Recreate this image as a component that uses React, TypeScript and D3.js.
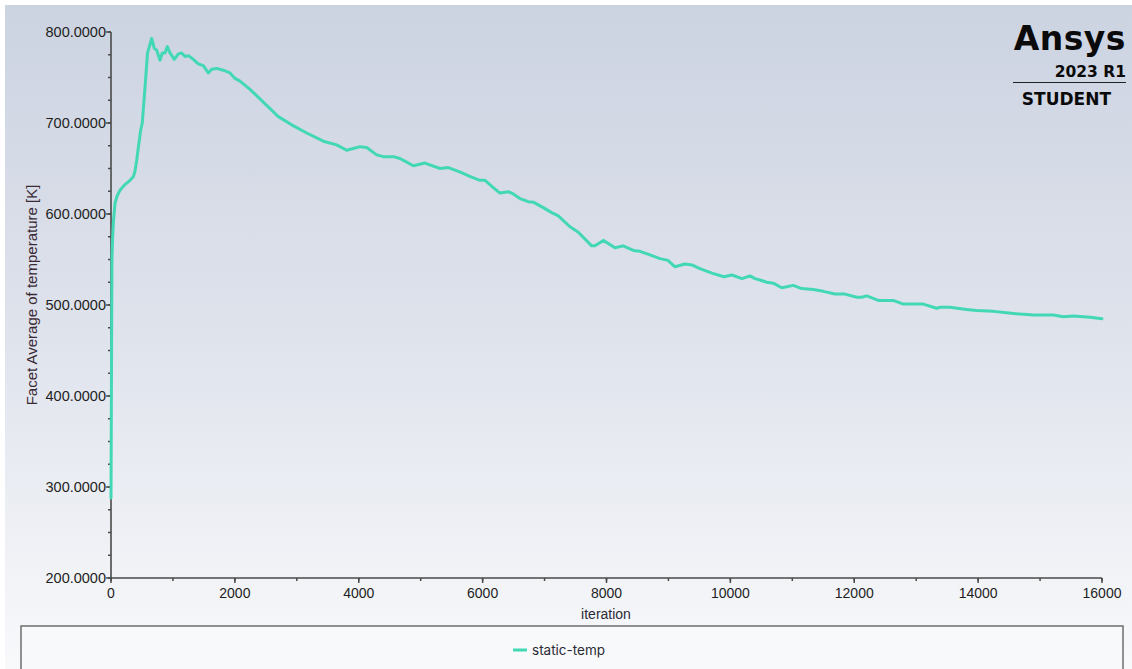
import React from "react";
import * as d3 from "d3";

const iterations = [0, 8, 15, 25, 40, 65, 100, 145, 220, 307, 360, 387, 415, 445, 479, 505, 550, 590, 657, 699, 738, 791, 828, 872, 909, 953, 1022, 1087, 1141, 1195, 1248, 1329, 1409, 1490, 1571, 1625, 1707, 1813, 1921, 2002, 2083, 2244, 2459, 2701, 2917, 3160, 3428, 3644, 3805, 3912, 4020, 4128, 4290, 4396, 4558, 4666, 4774, 4881, 5070, 5312, 5446, 5640, 5802, 5958, 6039, 6172, 6280, 6414, 6495, 6603, 6737, 6818, 6980, 7115, 7222, 7411, 7545, 7761, 7814, 7948, 8137, 8271, 8433, 8541, 8702, 8863, 8992, 9105, 9266, 9379, 9508, 9702, 9896, 10025, 10187, 10316, 10397, 10478, 10587, 10693, 10829, 10909, 11016, 11151, 11339, 11500, 11689, 11851, 12040, 12120, 12201, 12388, 12630, 12792, 13115, 13331, 13384, 13546, 13815, 13976, 14245, 14461, 14676, 14892, 15214, 15376, 15538, 15807, 16000];
const temperatures = [288, 430, 549, 572, 592, 612, 620, 626, 632, 637, 641, 647, 659, 675, 692, 700, 740, 777, 793, 782, 780, 769, 777, 777, 784, 777, 770, 776, 777, 773, 774, 770, 765, 763, 755, 759, 760, 758, 755, 749, 746, 737, 723, 707, 698, 689, 680, 676, 670, 672, 674, 673, 665, 663, 663, 661, 657, 653, 656, 650, 651, 646, 641, 637, 637, 629, 623, 624.5, 622, 617, 613.5, 613, 607, 601.5, 598, 586, 580, 565, 565, 571, 563, 565, 560, 559, 555, 551, 549, 542, 545, 544, 540, 535, 531, 533, 529, 532, 529, 527.5, 525, 524, 519, 520, 521.6, 518, 517, 515, 512, 512, 508.5, 508.5, 510, 505, 505, 501, 501, 496.4, 497.5, 497.5, 495, 494, 493, 491.5, 490, 489, 489, 487, 488, 486.5, 485];

const yTicks = [200, 300, 400, 500, 600, 700, 800];
const xTicks = [0, 2000, 4000, 6000, 8000, 10000, 12000, 14000, 16000];
const seriesName = "static-temp";
const xLabel = "iteration";
const yLabel = "Facet Average of temperature [K]";

export default function App() {
  const W = 1132, H = 669;
  const x = d3.scaleLinear().domain([0, 16000]).range([111, 1102]);
  const y = d3.scaleLinear().domain([200, 800]).range([578, 32]);
  const data = iterations.map((it, i) => [it, temperatures[i]] as [number, number]);
  const line = d3.line<[number, number]>().x(d => x(d[0])).y(d => y(d[1]));
  const yMinor = d3.range(200, 800.1, 25);
  const xMinor = d3.range(0, 16000.1, 1000);
  const lineColor = "#42d8b6";
  const axisColor = "#4a4a4a";
  const font = "'Liberation Sans', Arial, sans-serif";

  return (
    <svg width={W} height={H} style={{ position: "absolute", left: 0, top: 0 }}>
      <defs>
        <linearGradient id="bg" x1="0" y1="0" x2="0" y2="1">
          <stop offset="0" stopColor="#ccd3e1" />
          <stop offset="0.5" stopColor="#dfe3ec" />
          <stop offset="1" stopColor="#f8f9fb" />
        </linearGradient>
      </defs>
      <rect x={0} y={0} width={W} height={H} fill="#ffffff" />
      <rect x={5} y={5} width={W - 5} height={H - 5} fill="url(#bg)" />
      {/* legend box */}
      <rect x={21} y={626} width={1102} height={60} fill="#f8f9fb" stroke="#6e6e6e" strokeWidth={1.5} />
      <line x1={513} x2={527} y1={650} y2={650} stroke={lineColor} strokeWidth={3} />
      <text x={532} y={654.5} fontFamily="Inter, 'Noto Sans', sans-serif" fontSize={13.5} fill="#2a2a35">{seriesName}</text>

      {/* y axis */}
      <line x1={x(0)} x2={x(0)} y1={y(800)} y2={y(200)} stroke={axisColor} strokeWidth={1.6} />
      {yMinor.map(v => (
        <line key={"ym" + v} x1={x(0) - 3} x2={x(0)} y1={y(v)} y2={y(v)} stroke={axisColor} strokeWidth={1.5} />
      ))}
      {yTicks.map(v => (
        <g key={"yt" + v}>
          <line x1={x(0) - 5} x2={x(0)} y1={y(v)} y2={y(v)} stroke={axisColor} strokeWidth={1.5} />
          <text x={x(0) - 5} y={y(v) + 5} textAnchor="end" fontFamily={font} fontSize={14.5} fill="#1e1e1e">{v.toFixed(4)}</text>
        </g>
      ))}
      <text transform={`translate(36.5,${295}) rotate(-90)`} textAnchor="middle" fontFamily={font} fontSize={15} fill="#3a2a35">{yLabel}</text>

      {/* x axis */}
      <line x1={x(0)} x2={x(16000)} y1={y(200)} y2={y(200)} stroke={axisColor} strokeWidth={1.6} />
      {xMinor.map(v => (
        <line key={"xm" + v} x1={x(v)} x2={x(v)} y1={y(200)} y2={y(200) + 3} stroke={axisColor} strokeWidth={1.5} />
      ))}
      {xTicks.map(v => (
        <g key={"xt" + v}>
          <line x1={x(v)} x2={x(v)} y1={y(200)} y2={y(200) + 5} stroke={axisColor} strokeWidth={1.5} />
          <text x={x(v)} y={y(200) + 20} textAnchor="middle" fontFamily={font} fontSize={14} fill="#1e1e1e">{v}</text>
        </g>
      ))}
      <text x={606} y={619} textAnchor="middle" fontFamily={font} fontSize={14} fill="#2a2a35">{xLabel}</text>

      {/* series */}
      <path d={line(data) || ""} fill="none" stroke={lineColor} strokeWidth={3} strokeLinejoin="round" strokeLinecap="round" />

      {/* logo */}
      <text x={1126} y={50} textAnchor="end" fontFamily="'DejaVu Sans', sans-serif" fontWeight={900} fontSize={33} fill="#0a0a0a" letterSpacing={0.5}>Ansys</text>
      <text x={1126} y={77} textAnchor="end" fontFamily="'DejaVu Sans', sans-serif" fontWeight={700} fontSize={15.5} fill="#0a0a0a">2023 R1</text>
      <line x1={1013} x2={1126} y1={82.5} y2={82.5} stroke="#222" strokeWidth={1.2} />
      <text x={1111} y={105} textAnchor="end" fontFamily="'DejaVu Sans', sans-serif" fontWeight={700} fontSize={17} fill="#0a0a0a">STUDENT</text>
    </svg>
  );
}
